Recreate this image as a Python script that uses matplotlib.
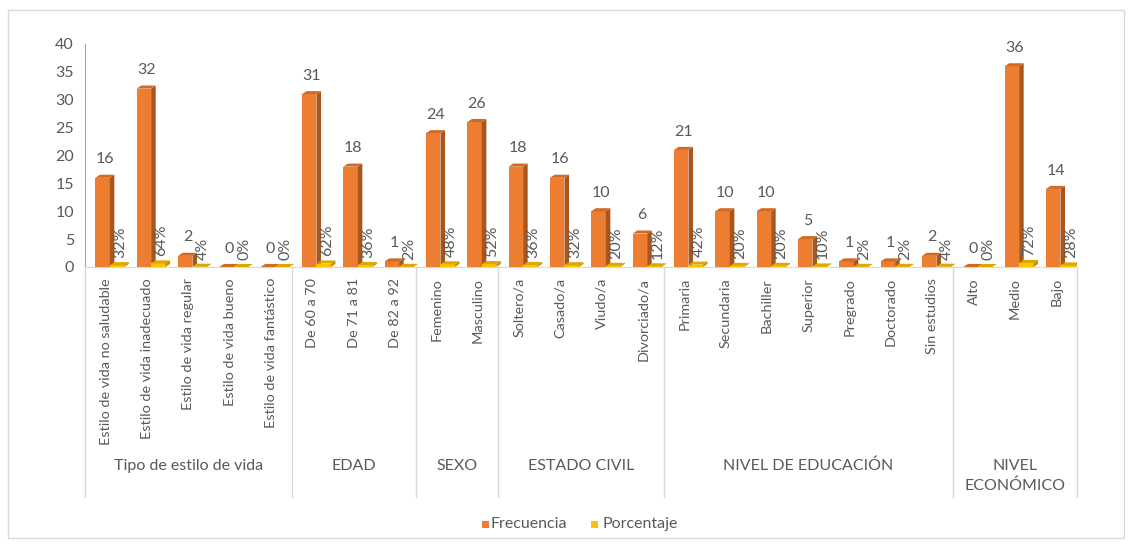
import matplotlib
matplotlib.use("Agg")
import matplotlib.pyplot as plt
from matplotlib.patches import Polygon, Rectangle
from matplotlib.lines import Line2D
import matplotlib.transforms as mtransforms

plt.rcParams['font.family'] = ['Lato', 'DejaVu Sans']

# ---- data ----
groups = ["Tipo de estilo de vida", "EDAD", "SEXO", "ESTADO CIVIL",
          "NIVEL DE EDUCACIÓN", "NIVEL\nECONÓMICO"]
group_sizes = [5, 3, 2, 4, 7, 3]
categories = ["Estilo de vida no saludable", "Estilo de vida inadecuado",
              "Estilo de vida regular", "Estilo de vida bueno",
              "Estilo de vida fantástico",
              "De 60 a 70", "De 71 a 81", "De 82 a 92",
              "Femenino", "Masculino",
              "Soltero/a", "Casado/a", "Viudo/a", "Divorciado/a",
              "Primaria", "Secundaria", "Bachiller", "Superior", "Pregrado",
              "Doctorado", "Sin estudios",
              "Alto", "Medio", "Bajo"]
frecuencia = [16, 32, 2, 0, 0,
              31, 18, 1,
              24, 26,
              18, 16, 10, 6,
              21, 10, 10, 5, 1, 1, 2,
              0, 36, 14]
porcentaje = [0.32, 0.64, 0.04, 0.0, 0.0,
              0.62, 0.36, 0.02,
              0.48, 0.52,
              0.36, 0.32, 0.20, 0.12,
              0.42, 0.20, 0.20, 0.10, 0.02, 0.02, 0.04,
              0.0, 0.72, 0.28]
yticks = [0, 5, 10, 15, 20, 25, 30, 35, 40]

W, H = 1132, 544
fig = plt.figure(figsize=(W / 100, H / 100), dpi=100)
fig.patch.set_facecolor("white")

# outer chart border
fig.add_artist(Rectangle((8 / W, 1 - 538 / H), (1124 - 8) / W, (538 - 10) / H,
                         transform=fig.transFigure, fill=False,
                         edgecolor="#D9D9D9", linewidth=1.0))

ax_l, ax_r, ax_t, ax_b = 85, 1077, 44, 267
ax = fig.add_axes([ax_l / W, 1 - ax_b / H, (ax_r - ax_l) / W, (ax_b - ax_t) / H])
n = len(categories)
ax.set_xlim(-0.5, n - 0.5)
ax.set_ylim(0, 40)
for s in ["top", "right"]:
    ax.spines[s].set_visible(False)
ax.spines["left"].set_color("#A6A6A6")
ax.spines["bottom"].set_color("#D9D9D9")
ax.set_yticks(yticks)
ax.tick_params(axis="y", length=0, labelsize=11.5, labelcolor="#595959", pad=8)
ax.set_xticks(range(n))
ax.set_xticklabels(categories, rotation=90, fontsize=10.4, color="#595959",
                   va="top", ha="center")
ax.tick_params(axis="x", length=0, pad=8)

TXT = "#595959"
dx, dy = 0.11, 0.55
w = 0.35
o_front, o_side, o_top = "#ED7D31", "#A9561D", "#D36A24"
y_front, y_side, y_top = "#FFC000", "#C29200", "#DDA800"


def bar3d(x0, v, cf, cs, ct):
    ax.add_patch(Rectangle((x0, 0), w, v, facecolor=cf, edgecolor="none", zorder=3))
    ax.add_patch(Polygon([(x0 + w, 0), (x0 + w + dx, dy), (x0 + w + dx, v + dy), (x0 + w, v)],
                         closed=True, facecolor=cs, edgecolor="none", zorder=3))
    ax.add_patch(Polygon([(x0, v), (x0 + dx, v + dy), (x0 + w + dx, v + dy), (x0 + w, v)],
                         closed=True, facecolor=ct, edgecolor="none", zorder=3))


for i in range(n):
    xo = i - 0.25
    xy = xo + w
    bar3d(xo, frecuencia[i], o_front, o_side, o_top)
    bar3d(xy, porcentaje[i], y_front, y_side, y_top)
    ax.annotate(f"{frecuencia[i]}", (xo + (w + dx) / 2, frecuencia[i] + dy),
                xytext=(0, 6), textcoords="offset points", ha="center", va="bottom",
                fontsize=11.5, color=TXT, zorder=5)
    ax.annotate(f"{round(porcentaje[i] * 100)}%", (xy + (w + dx) / 2 + 0.02, porcentaje[i] + dy),
                xytext=(0, 3), textcoords="offset points", ha="center", va="bottom",
                rotation=90, fontsize=11.5, color=TXT, zorder=5)

# group separators and labels
trans = mtransforms.blended_transform_factory(ax.transData, fig.transFigure)
edges = [-0.5]
for s in group_sizes:
    edges.append(edges[-1] + s)
for e in edges:
    fig.add_artist(Line2D([e, e], [1 - ax_b / H, 1 - 497 / H], transform=trans,
                          color="#D9D9D9", linewidth=1.0))
for g, a, b in zip(groups, edges[:-1], edges[1:]):
    ax.text((a + b) / 2, 1 - 459 / H, g, transform=trans, ha="center", va="top",
            fontsize=11.5, color=TXT, linespacing=1.45)

# legend
ly = 1 - 524 / H
fig.add_artist(Rectangle((482 / W, ly - 3.5 / H), 7 / W, 7 / H, transform=fig.transFigure,
                         facecolor=o_front, edgecolor="none"))
fig.text(491 / W, ly, "Frecuencia", ha="left", va="center", fontsize=11.5, color=TXT)
fig.add_artist(Rectangle((591 / W, ly - 3.5 / H), 7 / W, 7 / H, transform=fig.transFigure,
                         facecolor=y_front, edgecolor="none"))
fig.text(602 / W, ly, "Porcentaje", ha="left", va="center", fontsize=11.5, color=TXT)

fig.savefig("out.png", dpi=100)
